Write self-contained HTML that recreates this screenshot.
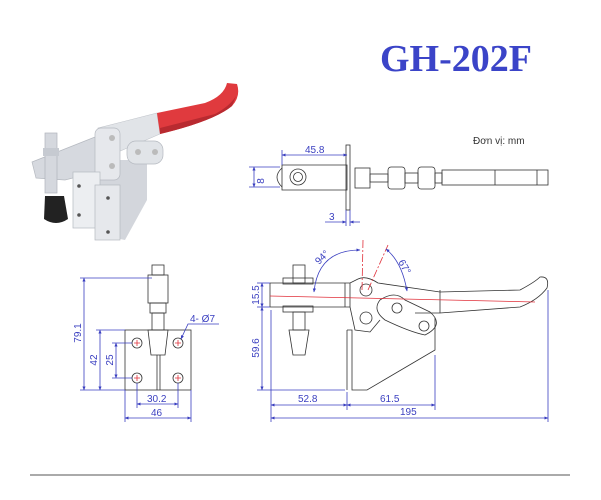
<!DOCTYPE html>
<html><head><meta charset="utf-8"><style>
html,body{margin:0;padding:0;background:#fff;width:601px;height:500px;overflow:hidden}
svg{display:block}
text{font-family:"Liberation Sans",sans-serif}
</style></head><body>
<svg width="601" height="500" viewBox="0 0 601 500" xmlns="http://www.w3.org/2000/svg">
<defs>
<marker id="a" viewBox="0 0 10 10" refX="9" refY="5" markerWidth="5" markerHeight="5" orient="auto-start-reverse"><path d="M0,1 L10,5 L0,9z" fill="#3a3fc0"/></marker>
</defs>
<text x="380" y="71" font-family="Liberation Serif" font-weight="bold" font-size="38" fill="#3b44c8" style="font-family:'Liberation Serif',serif">GH-202F</text>
<text x="473" y="144" font-size="10" fill="#333">Đơn vị: mm</text>

<!-- photo -->
<g>
<path d="M100,160 L147,160 L147,200 L125,240 L100,235Z" fill="#d3d6dc"/>
<path d="M98,128 L157,113 L160,134 L118,152 L100,150Z" fill="#e1e4e8" stroke="#c0c4ca" stroke-width="0.6"/>
<path d="M157,113 L205,103 Q224,96 227,83 L237,84 Q241,96 232,106 Q214,121 160,134 Z" fill="#e03a3e"/>
<path d="M160,128 L215,114 Q230,106 236,96 L232,106 Q214,121 160,134Z" fill="#b82a30"/>
<path d="M32,162 L95,137 L100,152 L110,148 L112,168 L65,180 L36,178Z" fill="#d6d9df" stroke="#b5b9c0" stroke-width="0.7"/>
<rect x="95" y="128" width="25" height="52" rx="6" fill="#e6e8ec" stroke="#b5b9c0" stroke-width="0.7"/>
<rect x="127" y="141" width="36" height="23" rx="9" fill="#e1e4e8" stroke="#b5b9c0" stroke-width="0.7"/>
<rect x="73" y="172" width="27" height="56" fill="#eceef1" stroke="#b5b9c0" stroke-width="0.7"/>
<rect x="95" y="185" width="25" height="55" fill="#e6e8ec" stroke="#b5b9c0" stroke-width="0.7"/>
<circle cx="79" cy="186" r="1.8" fill="#555"/><circle cx="79" cy="215" r="1.8" fill="#555"/>
<circle cx="108" cy="198" r="1.8" fill="#555"/><circle cx="108" cy="232" r="1.8" fill="#555"/>
<circle cx="112" cy="138" r="3" fill="#bbb"/><circle cx="112" cy="166" r="3" fill="#bbb"/>
<circle cx="138" cy="152" r="3" fill="#bbb"/><circle cx="155" cy="152" r="3" fill="#bbb"/>
<rect x="45" y="133" width="12" height="60" fill="#d5d8de" stroke="#b0b4bb" stroke-width="0.7"/>
<rect x="43" y="148" width="16" height="8" fill="#c6cad1"/>
<path d="M45,196 L64,196 L68,219 Q56,227 44,219Z" fill="#222"/>
</g>

<g fill="none" stroke="#333" stroke-width="0.8">
<!-- top view -->
<path d="M282,165 L347,165 L347,190 L282,190 Z"/>
<path d="M282,168 Q272,177 282,187"/>
<circle cx="298" cy="177" r="8"/><circle cx="298" cy="177" r="4.5"/>
<rect x="346" y="145" width="4" height="65"/>
<rect x="355" y="168" width="15" height="20"/>
<rect x="370" y="174" width="18" height="8"/>
<rect x="388" y="167" width="17" height="22" rx="3"/>
<rect x="418" y="167" width="17" height="22" rx="3"/>
<rect x="405" y="173" width="13" height="10"/>
<rect x="435" y="173" width="7" height="10"/>
<rect x="442" y="170" width="106" height="15"/>
<line x1="495" y1="170" x2="495" y2="185"/><line x1="537" y1="170" x2="537" y2="185"/>

<!-- side view -->
<path d="M270,283 L350,283 L350,307 L270,307"/>
<line x1="270" y1="283" x2="270" y2="307"/>
<line x1="345" y1="283" x2="345" y2="307"/>
<rect x="293" y="265" width="12" height="18"/>
<rect x="283" y="278" width="30" height="6"/>
<rect x="283" y="306" width="30" height="6"/>
<rect x="293" y="312" width="12" height="18"/>
<path d="M289,330 L309,330 L305,355 L293,355Z"/>
<path d="M350,283 L358,279 Q366,275 378,283 L440,292 L520,290 Q535,282 540,277 Q550,276 547,288 Q538,300 520,307 L440,313 L415,313"/>
<line x1="440" y1="290" x2="440" y2="313"/>
<path d="M350,307 L355,330 L370,332 L380,320"/>
<path d="M380,300 Q395,290 405,300 L430,312 Q445,325 425,335 Q410,332 385,320 Q372,310 380,300Z"/>
<circle cx="366" cy="290" r="6"/>
<circle cx="366" cy="318" r="6"/>
<circle cx="397" cy="308" r="5"/>
<circle cx="424" cy="326" r="5"/>
<path d="M347,330 L352,330 L352,390 L367,390 L435,350 L435,318"/>
<line x1="347" y1="330" x2="347" y2="390"/>

<!-- front view -->
<rect x="125" y="330" width="66" height="60"/>
<rect x="152" y="265" width="12" height="10"/>
<rect x="148" y="275" width="20" height="28"/>
<rect x="150" y="303" width="16" height="10"/>
<rect x="152" y="313" width="12" height="17"/>
<path d="M148,330 L168,330 L165,355 L151,355Z"/>
<line x1="157" y1="355" x2="157" y2="390"/><line x1="160" y1="355" x2="160" y2="390"/>
<circle cx="137" cy="343" r="5"/><circle cx="178" cy="343" r="5"/>
<circle cx="137" cy="378" r="5"/><circle cx="178" cy="378" r="5"/>
</g>

<g stroke="#e0303a" stroke-width="0.8" fill="none">
<line x1="270" y1="296" x2="535" y2="302"/>
<line x1="362" y1="290" x2="363" y2="240" stroke-dasharray="8,2,2,2"/>
<line x1="368" y1="290" x2="388" y2="245" stroke-dasharray="8,2,2,2"/>
<path d="M134,343 h6 M137,340 v6 M175,343 h6 M178,340 v6 M134,378 h6 M137,375 v6 M175,378 h6 M178,375 v6"/>
</g>

<!-- dimensions -->
<g stroke="#3a3fc0" stroke-width="0.8" fill="none">
<line x1="282" y1="155" x2="347" y2="155" marker-start="url(#a)" marker-end="url(#a)"/>
<line x1="282" y1="150" x2="282" y2="165"/>
<line x1="254" y1="167" x2="254" y2="187" marker-start="url(#a)" marker-end="url(#a)"/>
<line x1="249" y1="167" x2="280" y2="167"/><line x1="249" y1="187" x2="280" y2="187"/>
<line x1="325" y1="222" x2="346" y2="222" marker-end="url(#a)"/>
<line x1="360" y1="222" x2="350" y2="222" marker-end="url(#a)"/>
<line x1="346" y1="210" x2="346" y2="226"/><line x1="350" y1="210" x2="350" y2="226"/>

<path d="M314,292 Q318,250 360,250" marker-start="url(#a)" marker-end="url(#a)"/>
<path d="M386,249 Q402,262 407,291" marker-start="url(#a)" marker-end="url(#a)"/>
<line x1="262" y1="283" x2="262" y2="307" marker-start="url(#a)" marker-end="url(#a)"/>
<line x1="262" y1="307" x2="262" y2="390" marker-start="url(#a)" marker-end="url(#a)"/>
<line x1="257" y1="283" x2="270" y2="283"/><line x1="257" y1="307" x2="270" y2="307"/>
<line x1="257" y1="390" x2="345" y2="390"/>
<line x1="271" y1="405" x2="347" y2="405" marker-start="url(#a)" marker-end="url(#a)"/>
<line x1="347" y1="405" x2="435" y2="405" marker-start="url(#a)" marker-end="url(#a)"/>
<line x1="271" y1="418" x2="548" y2="418" marker-start="url(#a)" marker-end="url(#a)"/>
<line x1="271" y1="310" x2="271" y2="422"/>
<line x1="347" y1="392" x2="347" y2="410"/>
<line x1="435" y1="355" x2="435" y2="410"/>
<line x1="548" y1="290" x2="548" y2="422"/>

<line x1="84" y1="278" x2="84" y2="390" marker-start="url(#a)" marker-end="url(#a)"/>
<line x1="80" y1="278" x2="152" y2="278"/>
<line x1="100" y1="330" x2="100" y2="390" marker-start="url(#a)" marker-end="url(#a)"/>
<line x1="96" y1="330" x2="125" y2="330"/>
<line x1="80" y1="390" x2="125" y2="390"/>
<line x1="116" y1="343" x2="116" y2="378" marker-start="url(#a)" marker-end="url(#a)"/>
<line x1="112" y1="343" x2="132" y2="343"/><line x1="112" y1="378" x2="132" y2="378"/>
<line x1="137" y1="404" x2="178" y2="404" marker-start="url(#a)" marker-end="url(#a)"/>
<line x1="137" y1="383" x2="137" y2="408"/><line x1="178" y1="383" x2="178" y2="408"/>
<line x1="125" y1="418" x2="191" y2="418" marker-start="url(#a)" marker-end="url(#a)"/>
<line x1="125" y1="390" x2="125" y2="422"/><line x1="191" y1="390" x2="191" y2="422"/>
<path d="M219,324 L188,324 L181,339" marker-end="url(#a)"/>
</g>

<g fill="#3a3fc0" font-size="10">
<text x="305" y="153">45.8</text>
<text x="329" y="220">3</text>
<text x="264" y="181" transform="rotate(-90 264 181)" text-anchor="middle">8</text>
<text x="319" y="265" transform="rotate(-45 319 265)">94°</text>
<text x="398" y="262" transform="rotate(60 398 262)">67°</text>
<text x="259" y="295" transform="rotate(-90 259 295)" text-anchor="middle">15.5</text>
<text x="259" y="348" transform="rotate(-90 259 348)" text-anchor="middle">59.6</text>
<text x="298" y="402">52.8</text>
<text x="380" y="402">61.5</text>
<text x="400" y="415">195</text>
<text x="81" y="333" transform="rotate(-90 81 333)" text-anchor="middle">79.1</text>
<text x="97" y="360" transform="rotate(-90 97 360)" text-anchor="middle">42</text>
<text x="113" y="360" transform="rotate(-90 113 360)" text-anchor="middle">25</text>
<text x="147" y="402">30.2</text>
<text x="151" y="416">46</text>
<text x="190" y="322">4- Ø7</text>
</g>

<line x1="30" y1="475" x2="570" y2="475" stroke="#555" stroke-width="1"/>
</svg>
</body></html>
